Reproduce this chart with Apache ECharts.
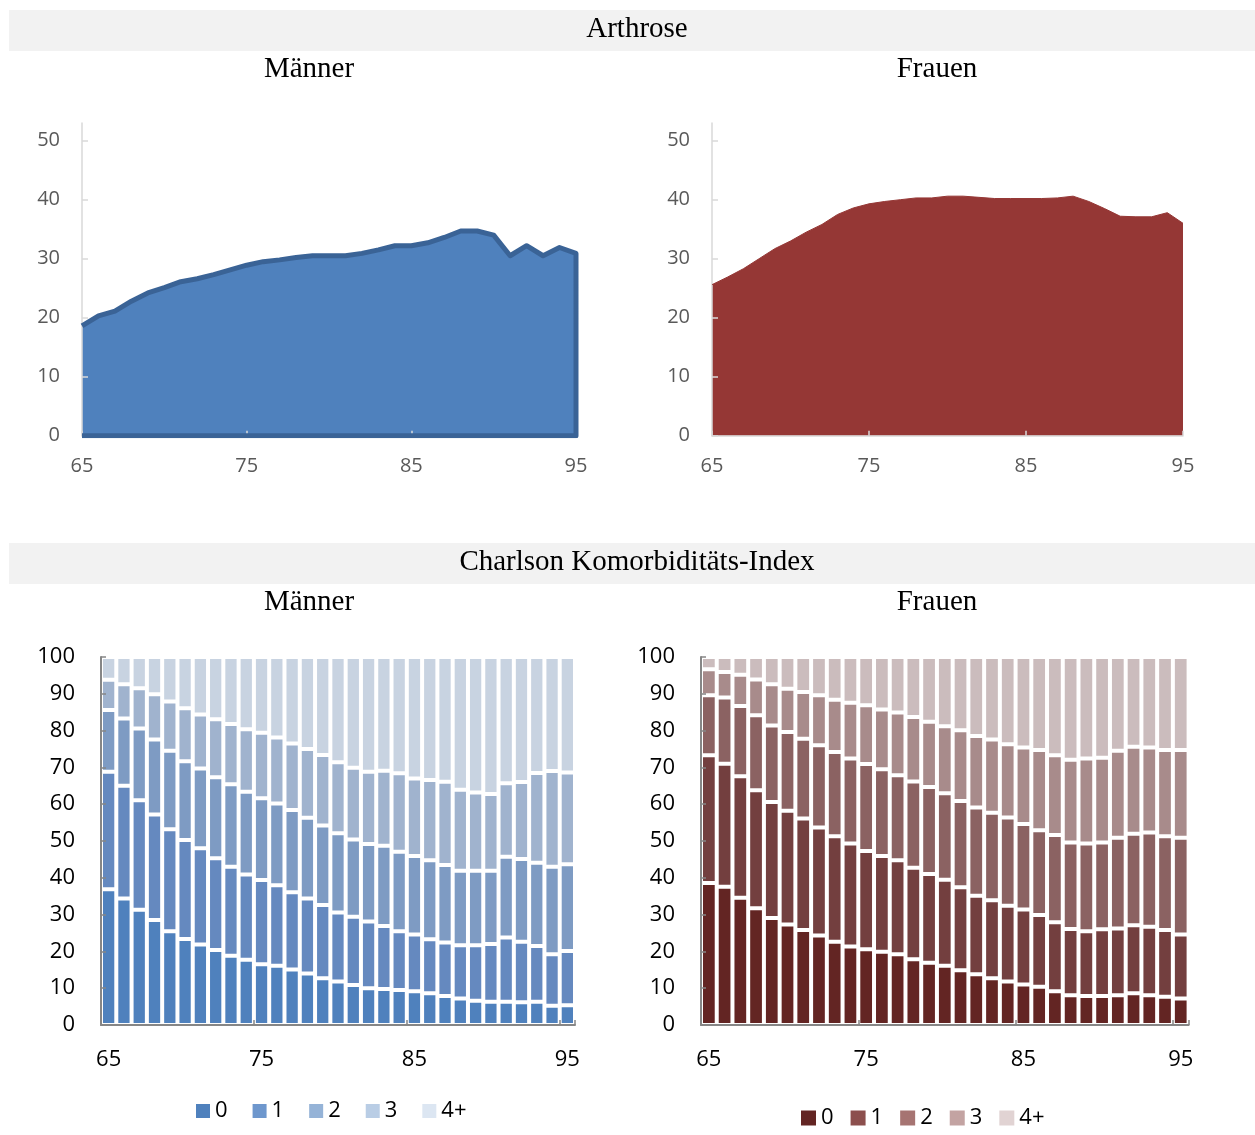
<!DOCTYPE html>
<html>
<head>
<meta charset="utf-8">
<title>Arthrose / Charlson Komorbiditäts-Index</title>
<script src="https://cdn.jsdelivr.net/npm/echarts@6/dist/echarts.min.js"></script>
<style>
  html, body { margin: 0; padding: 0; background: #ffffff; }
  #chart { width: 1255px; height: 1135px; }
</style>
</head>
<body>
<div id="chart"></div>
<script>
// Age categories (years)
const ages = [65, 66, 67, 68, 69, 70, 71, 72, 73, 74, 75, 76, 77, 78, 79, 80,
              81, 82, 83, 84, 85, 86, 87, 88, 89, 90, 91, 92, 93, 94, 95];

// Arthrose prevalence (%)
const arthroseMaenner = [18.6, 20.3, 21.1, 22.8, 24.2, 25.1, 26.1, 26.6, 27.3, 28.1, 28.9, 29.5, 29.8, 30.2, 30.5, 30.5,
                         30.5, 30.9, 31.5, 32.2, 32.2, 32.7, 33.6, 34.7, 34.7, 34.0, 30.5, 32.2, 30.5, 31.9, 30.9];
const arthroseFrauen  = [25.6, 26.9, 28.3, 30.0, 31.7, 33.0, 34.5, 35.8, 37.5, 38.6, 39.3, 39.7, 40.0, 40.3, 40.3, 40.6,
                         40.6, 40.4, 40.2, 40.2, 40.2, 40.2, 40.3, 40.6, 39.7, 38.5, 37.2, 37.1, 37.1, 37.8, 36.0];

// Charlson index classes
const cciClasses = ['0', '1', '2', '3', '4+'];

// Charlson index distribution, men (% per class)
const cciM0 = [36.9, 34.4, 31.3, 28.5, 25.5, 23.4, 21.9, 20.4, 18.8, 17.7, 16.5, 16.1, 15.1, 14.0, 12.7, 11.8,
               10.9, 10.0, 9.8, 9.5, 9.2, 8.6, 7.9, 7.2, 6.6, 6.3, 6.3, 6.2, 6.3, 5.2, 5.4];
const cciM1 = [31.9, 30.6, 29.8, 28.7, 27.7, 26.9, 26.1, 24.9, 24.2, 23.2, 22.9, 21.9, 21.0, 20.4, 19.9, 18.8,
               18.5, 18.1, 17.1, 16.0, 15.4, 14.7, 14.5, 14.5, 15.1, 15.7, 17.5, 16.4, 15.2, 14.0, 14.7];
const cciM2 = [16.8, 18.3, 19.5, 20.4, 21.3, 21.4, 21.7, 22.0, 22.4, 22.5, 22.2, 22.2, 22.3, 21.9, 21.6, 21.5,
               21.0, 21.1, 21.8, 21.6, 21.3, 21.5, 21.1, 20.2, 20.2, 19.9, 21.9, 22.5, 22.6, 23.8, 23.6];
const cciM3 = [8.2, 9.3, 10.9, 12.3, 13.4, 14.4, 14.7, 15.8, 16.4, 17.0, 17.8, 17.9, 18.1, 18.7, 19.2, 19.3,
               19.5, 19.6, 20.4, 21.3, 21.1, 21.8, 22.6, 22.0, 21.3, 20.9, 20.0, 20.9, 24.4, 26.0, 24.9];
const cciM4 = [6.2, 7.4, 8.5, 10.1, 12.1, 13.9, 15.6, 16.9, 18.2, 19.6, 20.6, 21.9, 23.5, 25.0, 26.6, 28.6,
               30.1, 31.2, 30.9, 31.6, 33.0, 33.4, 33.9, 36.1, 36.8, 37.2, 34.3, 34.0, 31.5, 31.0, 31.4];

// Charlson index distribution, women (% per class)
const cciF0 = [38.6, 37.6, 34.6, 31.7, 29.1, 27.3, 25.8, 24.3, 22.6, 21.3, 20.6, 19.9, 19.2, 17.9, 16.9, 16.1,
               14.9, 13.8, 12.7, 11.8, 11.0, 10.4, 9.2, 8.1, 7.9, 7.9, 8.1, 8.6, 8.1, 7.7, 7.2];
const cciF1 = [34.7, 33.4, 33.0, 32.1, 31.5, 30.9, 30.3, 29.4, 28.7, 28.0, 26.7, 26.0, 25.6, 24.8, 24.1, 23.4,
               22.5, 21.3, 21.2, 20.6, 20.4, 19.5, 18.7, 18.0, 17.6, 18.1, 18.1, 18.5, 18.6, 18.1, 17.4];
const cciF2 = [16.3, 18.0, 19.1, 20.4, 20.8, 21.4, 21.7, 22.3, 22.9, 23.1, 23.6, 23.6, 23.1, 23.5, 23.7, 23.5,
               23.5, 24.0, 23.8, 24.0, 23.2, 23.0, 23.7, 23.5, 23.8, 23.6, 24.7, 24.9, 25.6, 25.5, 26.3];
const cciF3 = [7.1, 6.9, 8.5, 9.7, 11.2, 11.8, 12.7, 13.6, 14.2, 15.2, 16.0, 16.2, 17.0, 17.5, 17.7, 18.2,
               19.2, 19.4, 19.9, 19.9, 20.8, 21.8, 21.7, 22.5, 23.1, 23.0, 23.6, 23.6, 23.1, 23.4, 23.8];
const cciF4 = [3.3, 4.1, 4.8, 6.1, 7.4, 8.6, 9.5, 10.4, 11.6, 12.4, 13.1, 14.3, 15.1, 16.3, 17.6, 18.8,
               19.9, 21.5, 22.4, 23.7, 24.6, 25.3, 26.7, 27.9, 27.6, 27.4, 25.5, 24.4, 24.6, 25.3, 25.3];

// Tick labels
const areaXTicks = [65, 75, 85, 95];
const areaYTicks = [0, 10, 20, 30, 40, 50];

// Palettes
const blueBars   = ['#4f81bd', '#6589bf', '#7e9bc3', '#a0b3ce', '#c8d3e1'];
const blueLegend = ['#4f81bd', '#6e97cd', '#95b3d7', '#b9cde5', '#dce6f2'];
const redBars    = ['#632523', '#733f3f', '#8b6262', '#a88b8b', '#cbbcbd'];
const redLegend  = ['#632523', '#8c4f4d', '#a67472', '#c3a3a2', '#e1d3d3'];

const labelFont = '"Open Sans", "Liberation Sans", sans-serif';
const titleFont = '"Liberation Serif", "Times New Roman", serif';

const chart = echarts.init(document.getElementById('chart'), null, { renderer: 'canvas' });

function areaXAxis(gridIndex) {
  return {
    type: 'value', gridIndex: gridIndex, min: ages[0], max: ages[ages.length - 1], z: 3,
    axisLine: { show: true, lineStyle: { color: '#d9d9d9', width: 1.5 } },
    axisTick: { show: true, inside: true, length: 5, customValues: areaXTicks, lineStyle: { color: '#d9d9d9', width: 1.5 } },
    axisLabel: { customValues: areaXTicks, margin: 21, color: '#595959', fontSize: 20, fontFamily: labelFont },
    splitLine: { show: false }
  };
}
function areaYAxis(gridIndex) {
  return {
    type: 'value', gridIndex: gridIndex, min: 0, max: 53, z: 3,
    axisLine: { show: true, lineStyle: { color: '#d9d9d9', width: 1.5 } },
    axisTick: { show: true, inside: true, length: 6, customValues: areaYTicks, lineStyle: { color: '#d9d9d9', width: 1.5 } },
    axisLabel: { customValues: areaYTicks, margin: 22, color: '#595959', fontSize: 20, fontFamily: labelFont },
    splitLine: { show: false }
  };
}
function barXAxis(gridIndex) {
  return {
    type: 'category', gridIndex: gridIndex, data: ages.map(String), z: 3,
    axisLine: { show: true, lineStyle: { color: '#868686', width: 2 } },
    axisTick: { show: true, inside: true, length: 5, interval: 9, lineStyle: { color: '#868686', width: 1.5 } },
    axisLabel: { interval: 9, margin: 24, color: '#000000', fontSize: 22, fontFamily: labelFont },
    splitLine: { show: false }
  };
}
function barYAxis(gridIndex) {
  return {
    type: 'value', gridIndex: gridIndex, min: 0, max: 100, interval: 10, z: 3,
    axisLine: { show: true, lineStyle: { color: '#868686', width: 2 } },
    axisTick: { show: true, inside: true, length: 5, lineStyle: { color: '#868686', width: 1.5 } },
    axisLabel: { margin: 26, color: '#000000', fontSize: 22, fontFamily: labelFont },
    splitLine: { show: false }
  };
}

function pairs(values) { return ages.map((a, i) => [a, values[i]]); }

// Men's area gets a closed outline: top edge, right edge and base line
const maennerOutline = pairs(arthroseMaenner).concat([[ages[ages.length - 1], 0], [ages[0], 0]]);

function barSeries(name, values, color, xIdx, stack) {
  return {
    name: name, type: 'bar', stack: stack, xAxisIndex: xIdx, yAxisIndex: xIdx,
    data: values, barCategoryGap: '0%',
    itemStyle: { color: color, borderColor: '#ffffff', borderWidth: 2 },
    emphasis: { disabled: true }
  };
}

const menBars = [cciM0, cciM1, cciM2, cciM3, cciM4];
const womenBars = [cciF0, cciF1, cciF2, cciF3, cciF4];

const series = [
  {
    name: 'Arthrose Männer', type: 'line', xAxisIndex: 0, yAxisIndex: 0,
    data: maennerOutline, showSymbol: false, symbol: 'none',
    lineStyle: { color: '#3a6396', width: 5, join: 'round' },
    areaStyle: { color: '#4f81bd', opacity: 1 }
  },
  {
    name: 'Arthrose Frauen', type: 'line', xAxisIndex: 1, yAxisIndex: 1,
    data: pairs(arthroseFrauen), showSymbol: false, symbol: 'none',
    lineStyle: { color: '#953735', width: 1 },
    areaStyle: { color: '#953735', opacity: 1 }
  }
];
cciClasses.forEach((c, i) => series.push(barSeries(c, menBars[i], blueBars[i], 2, 'men')));
cciClasses.forEach((c, i) => series.push(barSeries(c, womenBars[i], redBars[i], 3, 'women')));

function legendData(colors) {
  return cciClasses.map((c, i) => ({
    name: c, icon: 'rect',
    itemStyle: { color: colors[i], borderWidth: 0 }
  }));
}

function band(y, text) {
  return [
    { type: 'rect', left: 9, top: y, shape: { width: 1246, height: 41 }, style: { fill: '#f2f2f2' }, silent: true },
    { type: 'text', x: 637, y: y + 19, style: { text: text, font: '29px ' + titleFont, fill: '#000000', align: 'center', verticalAlign: 'middle' }, silent: true }
  ];
}
function subTitle(cx, y, text) {
  return { type: 'text', x: cx, y: y, style: { text: text, font: '29px ' + titleFont, fill: '#000000', align: 'center', verticalAlign: 'middle' }, silent: true };
}

const option = {
  animation: false,
  backgroundColor: '#ffffff',
  textStyle: { fontFamily: labelFont },
  graphic: [].concat(
    band(10, 'Arthrose'),
    [subTitle(309, 69, 'Männer'), subTitle(937, 69, 'Frauen')],
    band(543, 'Charlson Komorbiditäts-Index'),
    [subTitle(309, 602, 'Männer'), subTitle(937, 602, 'Frauen')]
  ),
  grid: [
    { left: 82, top: 123, width: 494, height: 312.7 },
    { left: 712, top: 123, width: 471, height: 312.7 },
    { left: 101, top: 657, width: 474, height: 368 },
    { left: 701, top: 657, width: 487.6, height: 368 }
  ],
  xAxis: [areaXAxis(0), areaXAxis(1), barXAxis(2), barXAxis(3)],
  yAxis: [areaYAxis(0), areaYAxis(1), barYAxis(2), barYAxis(3)],
  legend: [
    {
      left: 196, top: 1100, padding: 0, orient: 'horizontal', itemWidth: 14, itemHeight: 14, itemGap: 25,
      selectedMode: false, data: legendData(blueLegend),
      itemStyle: { borderWidth: 0 },
      textStyle: { fontSize: 22, color: '#000000', fontFamily: labelFont }
    },
    {
      left: 801, top: 1107, padding: 0, orient: 'horizontal', itemWidth: 15, itemHeight: 15, itemGap: 17,
      selectedMode: false, data: legendData(redLegend),
      itemStyle: { borderWidth: 0 },
      textStyle: { fontSize: 22, color: '#000000', fontFamily: labelFont }
    }
  ],
  series: series
};

chart.setOption(option);
</script>
</body>
</html>
